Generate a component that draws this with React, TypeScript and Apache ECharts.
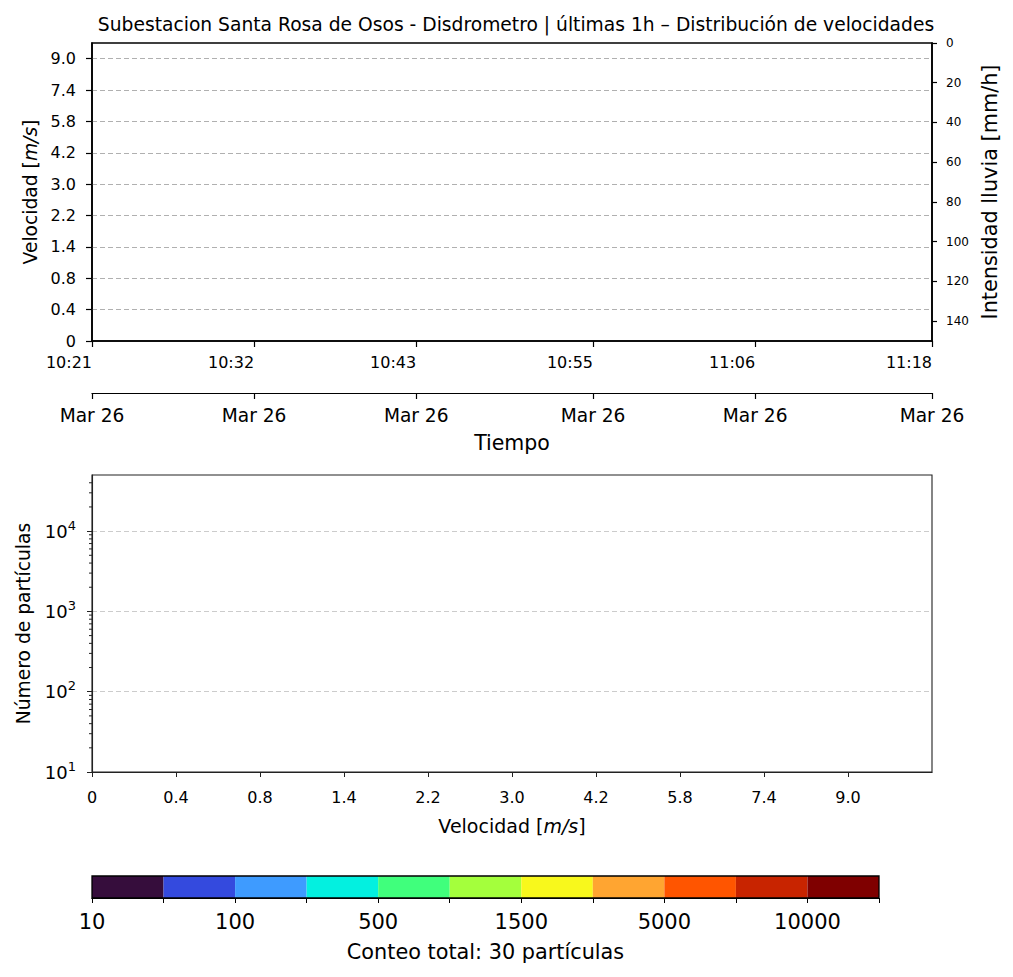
import React, { useEffect, useRef } from "react";
import * as echarts from "echarts";

const TITLE = "Subestacion Santa Rosa de Osos - Disdrometro | últimas 1h – Distribución de velocidades";
const velocityLabels = ["0", "0.4", "0.8", "1.4", "2.2", "3.0", "4.2", "5.8", "7.4", "9.0"];
const rainTicks = [0, 20, 40, 60, 80, 100, 120, 140];
const timeStart = "2025-03-26T10:21:00";
const timeEnd = "2025-03-26T11:18:00";
const timeTicks = [
  "2025-03-26T10:21:00",
  "2025-03-26T10:32:00",
  "2025-03-26T10:43:00",
  "2025-03-26T10:55:00",
  "2025-03-26T11:06:00",
  "2025-03-26T11:18:00",
];
const dateLabel = "Mar 26";
const logDecades = [10, 100, 1000, 10000];
const logMinorTicks = [
  20, 30, 40, 50, 60, 70, 80, 90,
  200, 300, 400, 500, 600, 700, 800, 900,
  2000, 3000, 4000, 5000, 6000, 7000, 8000, 9000,
  20000, 30000, 40000,
];
const colorbarLabels = ["10", "", "100", "", "500", "", "1500", "", "5000", "", "10000", ""];
const colorbarColors = [
  "#360d3c", "#344ade", "#3e9bff", "#03f0e0", "#40ff7c", "#a4ff3c",
  "#f8f81c", "#ffa531", "#ff5500", "#c82400", "#7f0000",
];
const totalCount = 30;
// Observed data in the last hour (empty in the reference)
const spectrogramPoints: [number, number][] = [];
const rainIntensity: [number, number][] = [];
const velocityCounts: [number, number][] = [];

const FONT = "DejaVu Sans";

function fmtTime(v: number) {
  const d = new Date(v);
  const p = (n: number) => (n < 10 ? "0" + n : "" + n);
  return p(d.getHours()) + ":" + p(d.getMinutes());
}

export default function App() {
  const ref = useRef<HTMLDivElement>(null);
  useEffect(() => {
    if (!ref.current) return;
    const chart = echarts.init(ref.current, undefined, { renderer: "svg" });
    const tStart = new Date(timeStart).getTime();
    const tEnd = new Date(timeEnd).getTime();
    const tTicks = timeTicks.map((t) => new Date(t).getTime());
    const velIdx = velocityLabels.map((_, i) => i);

    const option: any = {
      animation: false,
      backgroundColor: "#ffffff",
      textStyle: { fontFamily: FONT, color: "#000" },
      title: {
        text: TITLE,
        left: 511,
        textAlign: "center",
        top: 10,
        textStyle: { fontFamily: FONT, fontSize: 18.7, fontWeight: "normal", color: "#000" },
      },
      grid: [
        { left: 92, top: 43, width: 840, height: 298, show: true, borderColor: "#000", borderWidth: 1.6, containLabel: false },
        { left: 92, top: 475, width: 840, height: 297, show: true, borderColor: "#222", borderWidth: 1.1, containLabel: false },
        { left: 92, top: 876, width: 787, height: 22, show: false, containLabel: false },
      ],
      xAxis: [
        {
          gridIndex: 0,
          type: "value",
          min: tStart,
          max: tEnd,
          axisLine: { show: true, lineStyle: { color: "#000", width: 1.6 } },
          axisTick: { show: true, length: 6, customValues: tTicks, lineStyle: { color: "#000", width: 1.2 } },
          axisLabel: {
            customValues: tTicks,
            formatter: (v: number) => fmtTime(v),
            fontSize: 16,
            align: "right",
            color: "#000",
            fontFamily: FONT,
            margin: 13,
          },
          splitLine: { show: false },
        },
        {
          gridIndex: 0,
          type: "value",
          position: "bottom",
          offset: 52,
          min: tStart,
          max: tEnd,
          name: "Tiempo",
          nameLocation: "middle",
          nameGap: 39,
          nameTextStyle: { fontSize: 20.5, color: "#000", fontFamily: FONT },
          axisLine: { show: true, onZero: false, lineStyle: { color: "#000", width: 1.2 } },
          axisTick: { show: true, length: 6, customValues: tTicks, lineStyle: { color: "#000", width: 1.2 } },
          axisLabel: {
            customValues: tTicks,
            formatter: () => dateLabel,
            fontSize: 18.6,
            color: "#000",
            fontFamily: FONT,
            margin: 13,
          },
          splitLine: { show: false },
        },
        {
          gridIndex: 1,
          type: "value",
          min: 0,
          max: 10,
          interval: 1,
          name: "Velocidad [{i|m/s}]",
          nameLocation: "middle",
          nameGap: 44,
          nameTextStyle: {
            fontSize: 19,
            color: "#000",
            fontFamily: FONT,
            rich: { i: { fontStyle: "italic", fontSize: 19, fontFamily: FONT } },
          },
          axisLine: { show: true, onZero: false, lineStyle: { color: "#222", width: 1.1 } },
          axisTick: { show: true, length: 5, customValues: velIdx, lineStyle: { color: "#222" } },
          axisLabel: {
            customValues: velIdx,
            formatter: (v: number) => velocityLabels[Math.round(v)] ?? "",
            fontSize: 16,
            color: "#000",
            fontFamily: FONT,
            margin: 17,
          },
          splitLine: { show: false },
        },
        {
          gridIndex: 2,
          type: "value",
          min: 0,
          max: 11,
          interval: 1,
          name: `Conteo total: ${totalCount} partículas`,
          nameLocation: "middle",
          nameGap: 43,
          nameTextStyle: { fontSize: 20.8, color: "#000", fontFamily: FONT },
          axisLine: { show: true, onZero: false, lineStyle: { color: "#000", width: 1.2 } },
          axisTick: { show: true, length: 5, lineStyle: { color: "#000" } },
          axisLabel: {
            formatter: (v: number) => colorbarLabels[Math.round(v)] ?? "",
            fontSize: 21,
            color: "#000",
            fontFamily: FONT,
            margin: 13,
            showMinLabel: true,
            showMaxLabel: true,
          },
          splitLine: { show: false },
        },
      ],
      yAxis: [
        {
          gridIndex: 0,
          type: "value",
          min: 0,
          max: 9.5,
          interval: 1,
          name: "Velocidad [{i|m/s}]",
          nameLocation: "middle",
          nameGap: 52,
          nameTextStyle: {
            fontSize: 18.7,
            color: "#000",
            fontFamily: FONT,
            rich: { i: { fontStyle: "italic", fontSize: 18.7, fontFamily: FONT } },
          },
          axisLine: { show: true, onZero: false, lineStyle: { color: "#000", width: 1.6 } },
          axisTick: { show: true, length: 6, customValues: velIdx, lineStyle: { color: "#000", width: 1.2 } },
          axisLabel: {
            customValues: velIdx,
            formatter: (v: number) => velocityLabels[Math.round(v)] ?? "",
            fontSize: 16,
            color: "#000",
            fontFamily: FONT,
            margin: 16,
          },
          splitLine: {
            show: true,
            showMinLine: false,
            showMaxLine: true,
            lineStyle: { color: "#b0b0b0", type: [5, 3], width: 1.2 },
          },
        },
        {
          gridIndex: 0,
          type: "value",
          position: "right",
          inverse: true,
          min: 0,
          max: 150,
          name: "Intensidad lluvia [mm/h]",
          nameLocation: "middle",
          nameGap: 45,
          nameRotate: 90,
          nameTextStyle: { fontSize: 20.8, color: "#000", fontFamily: FONT },
          axisLine: { show: true, onZero: false, lineStyle: { color: "#000", width: 1.6 } },
          axisTick: { show: true, length: 5, customValues: rainTicks, lineStyle: { color: "#000", width: 1.2 } },
          axisLabel: {
            customValues: rainTicks,
            fontSize: 12,
            color: "#000",
            fontFamily: FONT,
            margin: 14,
          },
          splitLine: { show: false },
        },
        {
          gridIndex: 1,
          type: "log",
          logBase: 10,
          min: 10,
          max: 50000,
          name: "Número de partículas",
          nameLocation: "middle",
          nameGap: 59,
          nameTextStyle: { fontSize: 18.7, color: "#000", fontFamily: FONT },
          axisLine: { show: true, onZero: false, lineStyle: { color: "#222", width: 1.1 } },
          axisTick: { show: true, length: 5, customValues: logDecades, lineStyle: { color: "#222" } },
          axisLabel: {
            customValues: logDecades,
            formatter: (v: number) => {
              const e = String(Math.round(Math.log10(v)));
              return `{b|10}{s|${e}}`;
            },
            margin: 16,
            rich: {
              b: { fontSize: 18, color: "#000", fontFamily: FONT },
              s: { fontSize: 13, color: "#000", fontFamily: FONT, padding: [0, 0, 12, 0] },
            },
          },
          splitLine: {
            show: true,
            showMinLine: false,
            showMaxLine: true,
            lineStyle: { color: "#cccccc", type: [5, 3], width: 1.2 },
          },
        },
        {
          gridIndex: 2,
          type: "value",
          min: 0,
          max: 1,
          show: false,
        },
      ],
      series: [
        {
          type: "scatter",
          xAxisIndex: 0,
          yAxisIndex: 0,
          data: spectrogramPoints,
        },
        {
          type: "line",
          xAxisIndex: 0,
          yAxisIndex: 1,
          data: rainIntensity,
          showSymbol: false,
          lineStyle: { color: "#1f77b4" },
        },
        {
          type: "bar",
          xAxisIndex: 2,
          yAxisIndex: 2,
          data: velocityCounts,
        },
        {
          type: "custom",
          xAxisIndex: 2,
          yAxisIndex: 2,
          clip: false,
          silent: true,
          data: logMinorTicks.map((v) => [0, v]),
          renderItem: (_p: any, api: any) => {
            const pt = api.coord([0, api.value(1)]);
            return {
              type: "line",
              shape: { x1: pt[0] - 3, y1: pt[1], x2: pt[0], y2: pt[1] },
              style: { stroke: "#222", lineWidth: 1 },
            };
          },
        },
        {
          type: "custom",
          xAxisIndex: 3,
          yAxisIndex: 3,
          clip: false,
          silent: true,
          data: colorbarColors.map((_, i) => [i]),
          renderItem: (_p: any, api: any) => {
            const i = api.value(0);
            const p0 = api.coord([i, 0]);
            const p1 = api.coord([i + 1, 1]);
            return {
              type: "rect",
              shape: { x: p0[0], y: p1[1], width: p1[0] - p0[0], height: p0[1] - p1[1] },
              style: { fill: colorbarColors[i] },
            };
          },
        },
        {
          type: "custom",
          xAxisIndex: 3,
          yAxisIndex: 3,
          clip: false,
          silent: true,
          z: 5,
          data: [[0]],
          renderItem: (_p: any, api: any) => {
            const p0 = api.coord([0, 0]);
            const p1 = api.coord([colorbarColors.length, 1]);
            return {
              type: "rect",
              shape: { x: p0[0], y: p1[1], width: p1[0] - p0[0], height: p0[1] - p1[1] },
              style: { fill: "none", stroke: "#000", lineWidth: 1.3 },
            };
          },
        },
      ],
    };
    chart.setOption(option);
    return () => chart.dispose();
  }, []);
  return (
    <div
      ref={ref}
      style={{ position: "fixed", left: 0, top: 0, width: 1013, height: 977, background: "#fff" }}
    />
  );
}
